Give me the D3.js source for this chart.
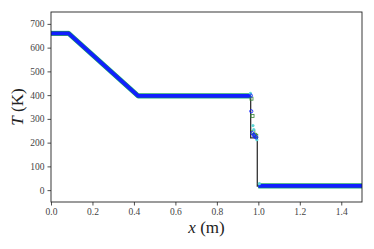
<!DOCTYPE html>
<html>
<head>
<meta charset="utf-8">
<script src="https://cdn.jsdelivr.net/npm/d3@7"></script>
<style>
  body { margin: 0; background: #fff; }
  text { font-family: "Liberation Serif", "DejaVu Serif", serif; }
</style>
</head>
<body>
<div id="chart"></div>
<script>
// analytical solution (black)
var exactX = [0.0, 0.085, 0.42, 0.963, 0.963, 0.995, 0.995, 1.5];
var exactT = [660, 660, 397, 397, 220, 220, 17, 17];

// numerical solutions, main curve vertices
var numX = [0.0, 0.085, 0.42, 0.963, 0.963, 1.0, 1.5];
var numT = [660, 660, 397, 397, 397, 18, 18];

// scattered points across the shock
var blueX = [0.964, 0.966, 0.971, 0.978, 0.982, 0.99];
var blueT = [398, 332, 240, 232, 226, 222];
var greenX = [0.967, 0.972, 0.976, 0.984, 0.99];
var greenT = [385, 312, 245, 233, 229];
var cyanX = [0.962, 0.974, 0.978, 0.993, 1.005];
var cyanT = [407, 272, 255, 212, 27];

var xTicks = [0.0, 0.2, 0.4, 0.6, 0.8, 1.0, 1.2, 1.4];
var yTicks = [0, 100, 200, 300, 400, 500, 600, 700];

var W = 374, H = 249;
var m = {left: 51, right: 12, top: 12, bottom: 47};

var svg = d3.select("#chart").append("svg")
  .attr("width", W)
  .attr("height", H);

var x = d3.scaleLinear().domain([0, 1.5]).range([m.left, W - m.right]);
var y = d3.scaleLinear().domain([-50, 750]).range([H - m.bottom, m.top]);

var clip = svg.append("clipPath").attr("id", "clip")
  .append("rect")
  .attr("x", m.left).attr("y", m.top)
  .attr("width", W - m.left - m.right)
  .attr("height", H - m.top - m.bottom);

var plot = svg.append("g").attr("clip-path", "url(#clip)");

var line = d3.line().x(function(d) { return x(d[0]); }).y(function(d) { return y(d[1]); });
var exact = exactX.map(function(v, i) { return [v, exactT[i]]; });
var num = numX.map(function(v, i) { return [v, numT[i]]; });

// black analytical line underneath
plot.append("path").attr("d", line(exact))
  .attr("fill", "none").attr("stroke", "#333").attr("stroke-width", 1.3);

// numerical curves as thick marker bands (flat parts and ramp only)
var band = num.slice(0, 4).concat([[0.963, 397]]);
var low = [[1.0, 18], [1.5, 18]];
[["#5fd6d6", 5.2], ["#2a9a3a", 4.6], ["#1020ff", 3.8]].forEach(function(s) {
  plot.append("path").attr("d", line(band))
    .attr("fill", "none").attr("stroke", s[0]).attr("stroke-width", s[1])
    .attr("stroke-linejoin", "round");
  plot.append("path").attr("d", line(low))
    .attr("fill", "none").attr("stroke", s[0]).attr("stroke-width", s[1]);
});

plot.selectAll("rect.green").data(greenX).enter().append("rect")
  .attr("class", "green")
  .attr("x", function(d) { return x(d) - 1.5; })
  .attr("y", function(d, i) { return y(greenT[i]) - 1.5; })
  .attr("width", 3).attr("height", 3)
  .attr("fill", "none").attr("stroke", "#3a8a3a").attr("stroke-width", 0.8);

plot.selectAll("circle.cyan").data(cyanX).enter().append("circle")
  .attr("class", "cyan")
  .attr("cx", function(d) { return x(d); })
  .attr("cy", function(d, i) { return y(cyanT[i]); })
  .attr("r", 1.6).attr("fill", "#5fd6d6");

plot.selectAll("circle.blue").data(blueX).enter().append("circle")
  .attr("class", "blue")
  .attr("cx", function(d) { return x(d); })
  .attr("cy", function(d, i) { return y(blueT[i]); })
  .attr("r", 1.6).attr("fill", "none").attr("stroke", "#1020ff").attr("stroke-width", 0.9);

// axes
var xAxis = svg.append("g")
  .attr("transform", "translate(0," + (H - m.bottom) + ")")
  .call(d3.axisBottom(x).tickValues(xTicks).tickFormat(d3.format(".1f")).tickSize(3.5).tickPadding(3));
var yAxis = svg.append("g")
  .attr("transform", "translate(" + m.left + ",0)")
  .call(d3.axisLeft(y).tickValues(yTicks).tickSize(3.5).tickPadding(3));

[xAxis, yAxis].forEach(function(a) {
  a.select(".domain").remove();
  a.selectAll("text").attr("font-size", 9.5).attr("fill", "#444")
    .style("font-family", "'Liberation Serif', serif");
  a.selectAll("line").attr("stroke", "#222").attr("stroke-width", 0.8);
});

svg.append("rect")
  .attr("x", m.left).attr("y", m.top)
  .attr("width", W - m.left - m.right)
  .attr("height", H - m.top - m.bottom)
  .attr("fill", "none").attr("stroke", "#222").attr("stroke-width", 0.9);

// axis labels
var xl = svg.append("text")
  .attr("x", (m.left + W - m.right) / 2).attr("y", 233)
  .attr("text-anchor", "middle").attr("font-size", 17).attr("fill", "#222");
xl.append("tspan").attr("font-style", "italic").text("x");
xl.append("tspan").text(" (m)");

var yl = svg.append("text")
  .attr("transform", "translate(23," + ((m.top + H - m.bottom) / 2) + ") rotate(-90)")
  .attr("text-anchor", "middle").attr("font-size", 17).attr("fill", "#222");
yl.append("tspan").attr("font-style", "italic").text("T");
yl.append("tspan").text(" (K)");
</script>
</body>
</html>
